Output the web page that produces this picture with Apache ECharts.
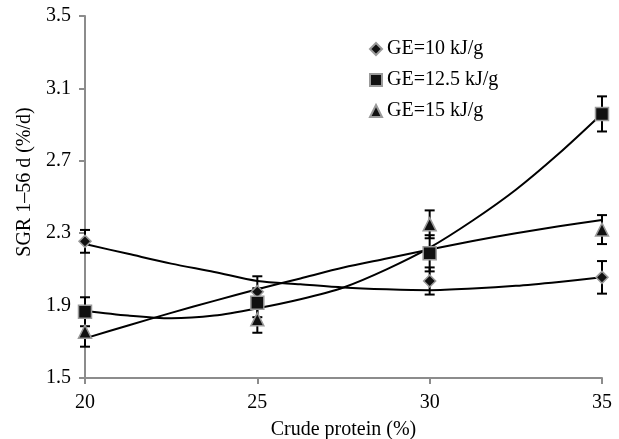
<!DOCTYPE html>
<html>
<head>
<meta charset="utf-8">
<script src="https://cdn.jsdelivr.net/npm/echarts@6/dist/echarts.min.js"></script>
<style>html,body{margin:0;padding:0;background:#fff}#c{width:619px;height:439px}</style>
</head>
<body>
<div id="c"></div>
<script>
// Data
var protein = [20, 25, 30, 35];
var names = ['GE=10 kJ/g', 'GE=12.5 kJ/g', 'GE=15 kJ/g'];
var ge10 = [2.255, 1.977, 2.036, 2.056];
var ge10err = [0.063, 0.085, 0.075, 0.09];
var ge125 = [1.866, 1.916, 2.189, 2.959];
var ge125err = [0.08, 0.08, 0.1, 0.097];
var ge15 = [1.756, 1.824, 2.349, 2.32];
var ge15err = [0.083, 0.074, 0.077, 0.08];
// trend curves, values at these x positions
var curveX = [20, 21.25, 22.5, 23.75, 25, 26.25, 27.5, 28.75, 30, 31.25, 32.5, 33.75, 35];
var fit10 = [2.24, 2.186, 2.132, 2.086, 2.036, 2.018, 2.0, 1.99, 1.985, 1.994, 2.009, 2.031, 2.056];
var fit125 = [1.872, 1.845, 1.83, 1.845, 1.885, 1.935, 2.0, 2.1, 2.22, 2.37, 2.54, 2.74, 2.96];
var fit15 = [1.719, 1.79, 1.86, 1.926, 1.99, 2.05, 2.11, 2.16, 2.21, 2.257, 2.30, 2.338, 2.373];
var yTicks = [1.5, 1.9, 2.3, 2.7, 3.1, 3.5];
var xTicks = [20, 25, 30, 35];

var FONT = '"Liberation Serif", "Times New Roman", serif';
var FS = 20;
var chart = echarts.init(document.getElementById('c'));

function pairs(xs, ys) { return xs.map(function (x, i) { return [x, ys[i]]; }); }
function errData(xs, ys, es) { return xs.map(function (x, i) { return [x, ys[i] - es[i], ys[i] + es[i]]; }); }

function errSeries(xs, ys, es) {
  return {
    type: 'custom',
    z: 3,
    silent: true,
    data: errData(xs, ys, es),
    renderItem: function (params, api) {
      var lo = api.coord([api.value(0), api.value(1)]);
      var hi = api.coord([api.value(0), api.value(2)]);
      var w = 5;
      var st = { stroke: '#000', lineWidth: 2 };
      return {
        type: 'group',
        children: [
          { type: 'line', shape: { x1: lo[0], y1: lo[1], x2: hi[0], y2: hi[1] }, style: st },
          { type: 'line', shape: { x1: lo[0] - w, y1: lo[1], x2: lo[0] + w, y2: lo[1] }, style: st },
          { type: 'line', shape: { x1: hi[0] - w, y1: hi[1], x2: hi[0] + w, y2: hi[1] }, style: st }
        ]
      };
    }
  };
}
function curve(ys) {
  return {
    type: 'line', smooth: 0.3, showSymbol: false, silent: true, z: 2,
    data: pairs(curveX, ys),
    lineStyle: { color: '#000', width: 2 }
  };
}
function markers(name, ys, sym, size) {
  return {
    name: name, type: 'scatter', symbol: sym, symbolSize: size, z: 5,
    data: pairs(protein, ys),
    itemStyle: { color: '#111', borderColor: '#9a9a9a', borderWidth: 1.5, opacity: 1 }
  };
}

chart.setOption({
  animation: false,
  backgroundColor: '#fff',
  grid: { left: 85, right: 17, top: 16, bottom: 61, containLabel: false, outerBoundsMode: 'none' },
  legend: {
    orient: 'vertical', left: 364, top: 34, itemWidth: 12, itemHeight: 12, itemGap: 11,
    data: [
      { name: names[0], icon: 'diamond' },
      { name: names[1], icon: 'rect' },
      { name: names[2], icon: 'triangle' }
    ],
    textStyle: { fontFamily: FONT, fontSize: FS, color: '#000' }
  },
  xAxis: {
    type: 'value', min: xTicks[0], max: xTicks[xTicks.length - 1], interval: 5,
    name: 'Crude protein (%)', nameLocation: 'middle', nameGap: 42,
    nameTextStyle: { fontFamily: FONT, fontSize: FS, color: '#000' },
    axisLine: { lineStyle: { color: '#8c8c8c', width: 2 } },
    axisTick: { show: true, inside: false, length: 6, lineStyle: { color: '#8c8c8c', width: 2 } },
    axisLabel: { fontFamily: FONT, fontSize: FS, color: '#000', margin: 15 },
    splitLine: { show: false }
  },
  yAxis: {
    type: 'value', min: yTicks[0], max: yTicks[yTicks.length - 1], interval: 0.4,
    name: 'SGR 1–56 d (%/d)', nameLocation: 'middle', nameGap: 43,
    nameTextStyle: { fontFamily: FONT, fontSize: FS, color: '#000', padding: [0, 0, 0, 30] },
    axisLine: { show: true, lineStyle: { color: '#8c8c8c', width: 2 } },
    axisTick: { show: true, inside: false, length: 6, lineStyle: { color: '#8c8c8c', width: 2 } },
    axisLabel: { fontFamily: FONT, fontSize: FS, color: '#000', margin: 14,
      formatter: function (v) { return v.toFixed(1); } },
    splitLine: { show: false }
  },
  series: [
    curve(fit10), curve(fit125), curve(fit15),
    errSeries(protein, ge10, ge10err),
    errSeries(protein, ge125, ge125err),
    errSeries(protein, ge15, ge15err),
    markers(names[0], ge10, 'diamond', 12),
    markers(names[1], ge125, 'rect', 13),
    markers(names[2], ge15, 'triangle', 13)
  ]
});
</script>
</body>
</html>
